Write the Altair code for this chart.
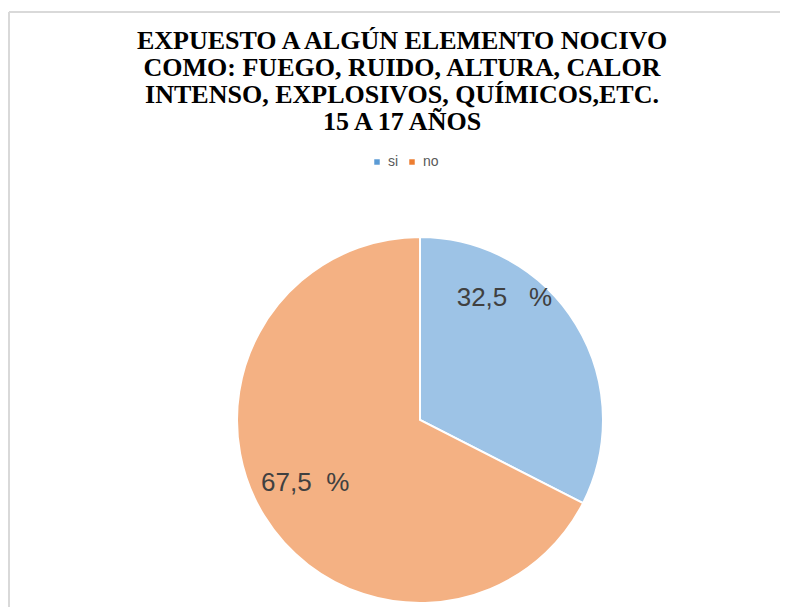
import altair as alt
import pandas as pd

categories = ["si", "no"]
values = [32.5, 67.5]
labels = ["32,5\u00a0\u00a0\u00a0%", "67,5\u00a0\u00a0%"]
orders = [1, 2]

title_lines = [
    "EXPUESTO A ALGÚN ELEMENTO NOCIVO",
    "COMO: FUEGO, RUIDO, ALTURA, CALOR",
    "INTENSO, EXPLOSIVOS, QUÍMICOS,ETC.",
    "15 A 17 AÑOS",
]

df = pd.DataFrame({"cat": categories, "value": values, "label": labels, "ord": orders})

W, H = 772, 449
CX, CY, R = 412, 262, 183

color = alt.Color(
    "cat:N",
    scale=alt.Scale(domain=categories, range=["#5B9BD5", "#ED7D31"]),
    legend=alt.Legend(
        title=None,
        orient="none",
        legendX=362,
        legendY=-3,
        direction="horizontal",
        symbolType="square",
        symbolSize=30,
        symbolOpacity=1,
        symbolStrokeWidth=0,
        labelFontSize=14,
        labelFont="Liberation Sans",
        labelColor="#595959",
        labelOffset=4,
        columnPadding=6,
        padding=0,
    ),
)

arcs = alt.Chart(df).mark_arc(
    outerRadius=R, fillOpacity=0.6, stroke="white", strokeWidth=2
).encode(
    theta=alt.Theta("value:Q", stack=True),
    order=alt.Order("ord:Q"),
    color=color,
    x=alt.value(CX),
    y=alt.value(CY),
)

def label_layer(cat, radius, dx, dy):
    return alt.Chart(df).transform_window(
        cum="sum(value)", sort=[alt.SortField("ord")]
    ).transform_calculate(
        mid="datum.cum - datum.value / 2"
    ).transform_filter(
        alt.datum.cat == cat
    ).mark_text(
        radius=radius, dx=dx, dy=dy, fontSize=26, font="Liberation Sans",
        color="#404040", align="center", baseline="middle"
    ).encode(
        theta=alt.Theta("mid:Q", stack=False),
        text="label:N",
        x=alt.value(CX),
        y=alt.value(CY),
    )

lab_si = label_layer("si", 140, -35, -49)
lab_no = label_layer("no", 130, -4, -5)

one = alt.Data(values=[{"k": 1}])
frame_top = alt.Chart(one).mark_rule(color="#d9d9d9", strokeWidth=2).encode(
    x=alt.value(1), x2=alt.value(W), y=alt.value(-146)
)
frame_left = alt.Chart(one).mark_rule(color="#d9d9d9", strokeWidth=2).encode(
    x=alt.value(1), y=alt.value(-146), y2=alt.value(H)
)

chart = alt.layer(frame_top, frame_left, arcs, lab_si, lab_no).properties(
    width=W,
    height=H,
    autosize=alt.AutoSizeParams(type="none"),
    padding={"top": 150, "left": 0, "right": 0, "bottom": 0},
    title=alt.TitleParams(
        text=title_lines,
        font="Liberation Serif",
        fontSize=26,
        fontWeight="bold",
        color="#000000",
        lineHeight=27,
        anchor="middle",
        orient="top",
        offset=0,
        dx=8,
        dy=124,
    ),
).configure_view(stroke=None)

chart.save("out.html", embed_options={"renderer": "svg", "actions": False})
